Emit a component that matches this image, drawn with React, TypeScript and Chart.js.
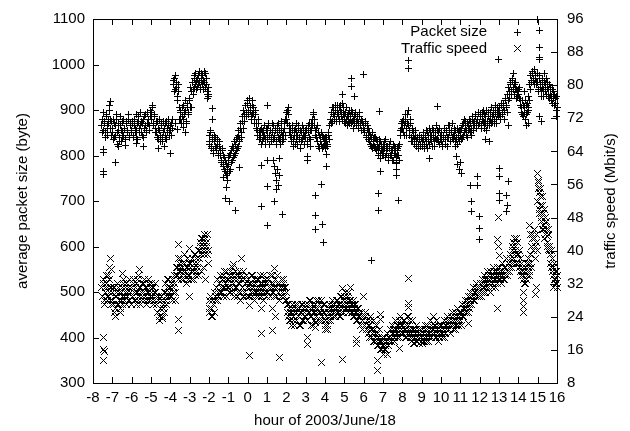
import React, { useEffect, useRef } from "react";
import { Chart, registerables } from "chart.js";

Chart.register(...registerables);

const FONT = "'Liberation Sans', Arial, Helvetica, sans-serif";

// time grid of the sampled series (hours), one row = one hour
const START_HOUR = -8;
const STEP_HOUR = 0.05;
const HALF_STEP = 0.025;

const HOUR_MIN = -8;
const HOUR_MAX = 16;
const HOUR_STEP = 1;
const SIZE_MIN = 300;
const SIZE_MAX = 1100;
const SIZE_STEP = 100;
const SPEED_MIN = 8;
const SPEED_MAX = 96;
const SPEED_STEP = 8;

const seriesLabels = ["Packet size", "Traffic speed"];
const xTitle = "hour of 2003/June/18";
const yTitle = "average packet size (byte)";
const y2Title = "traffic speed (Mbit/s)";

const N = null;

// average packet size (byte), samples on the hour grid
const packetSizeRows: (number | null)[][] = [
  [N, N, N, N, N, N, N, N, N, 865, 880, 855, 875, 850, 885, 860, 870, 910, 880, 845],
  [860, 835, 870, 845, 880, 825, 855, 840, 865, 830, 850, 875, 845, 860, 835, 870, 850, 880, 845, 865],
  [855, 875, 845, 880, 860, 840, 870, 885, 850, 865, 875, 845, 880, 860, 890, 855, 870, 880, 865, 885],
  [895, 880, 905, 870, 885, 860, 850, 875, 835, 855, 845, 870, 830, 850, 860, 840, 875, 850, 865, 855],
  [855, 870, 860, 955, 970, 945, 960, 930, 940, 905, 880, 895, 870, 885, 910, 890, 900, 875, 915, 895],
  [920, 950, 940, 960, 945, 970, 955, 965, 950, 975, 960, 945, 980, 955, 965, 985, 950, 970, 940, 930],
  [845, 825, 850, 815, 835, 810, 830, 840, 815, 825, 805, 820, 800, 785, 810, 775, 795, 765, 780, 760],
  [780, 800, 770, 810, 790, 815, 800, 825, 810, 840, 820, 855, 835, 870, 850, 885, 900, 875, 910, 895],
  [915, 890, 920, 900, 880, 910, 895, 870, 900, 860, 845, 870, 835, 855, 825, 850, 840, 865, 835, 855],
  [860, 835, 870, 845, 855, 830, 850, 865, 840, 855, 830, 850, 870, 835, 840, 860, 830, 850, 870, 845],
  [880, 900, 890, 865, 845, 830, 855, 820, 845, 860, 835, 850, 825, 865, 840, 815, 850, 835, 860, 845],
  [840, 860, 825, 850, 870, 835, 855, 880, 890, 865, 845, 860, 830, 850, 815, 840, 825, 845, 820, 835],
  [830, 815, 840, 825, 850, 865, 880, 895, 875, 905, 885, 900, 880, 910, 890, 875, 900, 885, 915, 890],
  [875, 895, 880, 865, 890, 870, 885, 900, 875, 860, 885, 870, 890, 865, 880, 860, 885, 870, 855, 875],
  [865, 850, 870, 845, 860, 835, 850, 825, 840, 815, 835, 820, 840, 810, 830, 815, 835, 805, 825, 810],
  [825, 800, 815, 835, 805, 820, 795, 815, 830, 800, 810, 790, 820, 805, 795, 815, 800, 825, 845, 860],
  [875, 850, 865, 890, 845, 870, 900, 855, 880, 840, 860, 830, 850, 825, 845, 820, 840, 815, 835, 825],
  [840, 820, 835, 815, 845, 825, 850, 830, 860, 835, 845, 820, 855, 830, 840, 865, 835, 850, 825, 845],
  [830, 850, 825, 845, 860, 835, 855, 820, 840, 865, 830, 850, 870, 835, 845, 820, 840, 825, 850, 830],
  [845, 860, 840, 870, 850, 875, 855, 840, 865, 880, 850, 870, 860, 885, 855, 875, 890, 860, 880, 865],
  [870, 890, 860, 880, 900, 870, 885, 855, 875, 895, 865, 880, 905, 875, 890, 870, 895, 880, 905, 885],
  [890, 905, 880, 910, 895, 915, 900, 925, 905, 935, 950, 925, 960, 940, 970, 950, 935, 960, 945, 930],
  [945, 925, 910, 895, 920, 885, 905, 880, 910, 895, 930, 905, 955, 975, 960, 985, 965, 990, 970, 955],
  [960, 940, 975, 950, 930, 965, 945, 980, 955, 935, 960, 945, 925, 950, 930, 915, 940, 910, 925, 900],
];

// average packet size (byte), samples half a step later
const packetSizeRowsB: (number | null)[][] = [
  [N, N, N, N, N, N, N, N, N, 850, 895, 870, 840, 890, 865, 845, 880, 900, 860, 875],
  [850, 880, 840, 865, 890, 850, 870, 830, 885, 855, 840, 880, 860, 835, 875, 855, 890, 840, 870, 850],
  [870, 840, 865, 850, 890, 855, 835, 875, 860, 895, 850, 870, 840, 885, 865, 850, 895, 870, 855, 900],
  [880, 910, 865, 890, 850, 875, 840, 860, 880, 830, 865, 840, 875, 820, 845, 870, 835, 860, 880, 845],
  [865, 845, 880, 965, 940, 975, 950, 920, 955, 880, 900, 870, 905, 880, 895, 920, 870, 905, 890, 925],
  [905, 940, 960, 935, 975, 950, 980, 945, 970, 955, 985, 950, 965, 975, 945, 960, 980, 955, 935, 950],
  [830, 855, 820, 840, 805, 845, 820, 810, 835, 800, 830, 810, 790, 815, 780, 800, 770, 790, 755, 775],
  [795, 765, 805, 785, 820, 795, 830, 805, 835, 815, 845, 830, 860, 840, 875, 860, 890, 910, 885, 920],
  [900, 925, 905, 885, 920, 890, 905, 880, 890, 870, 855, 880, 850, 840, 860, 830, 855, 845, 825, 860],
  [845, 865, 825, 855, 840, 870, 835, 845, 860, 825, 865, 840, 855, 825, 850, 875, 845, 835, 860, 880],
  [895, 870, 905, 850, 860, 840, 865, 835, 855, 825, 870, 845, 860, 835, 855, 830, 865, 845, 825, 855],
  [855, 830, 865, 840, 855, 820, 870, 865, 895, 880, 855, 840, 865, 820, 845, 830, 850, 815, 840, 825],
  [840, 825, 820, 845, 835, 880, 870, 905, 890, 880, 910, 875, 895, 885, 905, 880, 910, 895, 880, 905],
  [890, 870, 905, 885, 875, 900, 880, 870, 895, 880, 870, 895, 875, 885, 870, 895, 865, 880, 875, 860],
  [855, 875, 840, 865, 845, 860, 830, 845, 820, 850, 825, 840, 815, 835, 820, 800, 820, 830, 810, 800],
  [810, 830, 795, 820, 815, 790, 825, 800, 810, 790, 825, 805, 815, 785, 810, 800, 820, 790, 855, 870],
  [860, 880, 845, 875, 860, 890, 865, 845, 870, 830, 855, 845, 835, 855, 830, 840, 825, 845, 820, 840],
  [830, 850, 825, 840, 830, 855, 815, 845, 825, 850, 830, 860, 840, 820, 850, 835, 855, 830, 860, 835],
  [845, 820, 840, 860, 825, 850, 840, 865, 850, 830, 855, 840, 845, 860, 830, 855, 835, 860, 840, 855],
  [855, 835, 865, 845, 880, 860, 845, 870, 855, 860, 875, 845, 880, 870, 865, 885, 870, 880, 895, 870],
  [885, 865, 895, 875, 860, 890, 870, 900, 865, 885, 875, 895, 870, 885, 900, 880, 910, 870, 890, 900],
  [900, 885, 915, 890, 905, 880, 920, 910, 895, 920, 940, 955, 935, 965, 945, 980, 955, 945, 925, 940],
  [935, 950, 920, 905, 890, 910, 895, 920, 890, 915, 900, 920, 945, 965, 980, 970, 955, 975, 960, 980],
  [945, 970, 955, 940, 970, 950, 930, 960, 940, 970, 950, 930, 955, 935, 920, 945, 925, 935, 915, 930],
];

// scattered packet-size samples away from the main band [hour, byte]
const packetSizeExtra: [number, number][] = [
  [-7.45, 813], [-7.45, 806], [-7.47, 765], [-7.45, 758], [-6.85, 784], [-7.12, 918], [-6.7, 820], [-6.3, 822],
  [-5.73, 827], [-5.4, 820], [-4.6, 815], [-4.0, 805], [-3.75, 870], [-3.65, 858], [-3.3, 862], [-3.2, 850],
  [-2.9, 905], [-2.1, 925], [-2.05, 935], [-1.8, 903], [-1.8, 880], [-1.15, 706], [-1.1, 730], [-1.05, 745],
  [-1.25, 752], [-0.95, 700], [-0.65, 680], [-0.4, 773], [0.74, 778], [0.74, 689], [1.0, 910], [1.05, 789],
  [1.05, 732], [1.05, 646], [1.35, 790], [1.4, 775], [1.45, 760], [1.5, 745], [1.55, 770], [1.6, 735],
  [1.65, 755], [1.5, 725], [1.4, 700], [1.67, 793], [1.78, 670], [3.07, 797], [3.07, 790], [3.5, 713],
  [3.5, 668], [3.5, 637], [3.8, 737], [3.85, 648], [3.9, 609], [4.1, 803], [4.1, 776], [4.9, 933],
  [5.35, 970], [5.35, 951], [5.55, 929], [6.0, 977], [6.43, 570], [6.75, 717], [6.75, 680], [6.85, 793],
  [6.85, 765], [6.8, 897], [7.7, 782], [7.7, 770], [7.7, 756], [7.8, 702], [8.3, 1009], [8.3, 992],
  [9.43, 793], [9.8, 908], [10.8, 797], [10.85, 780], [10.95, 770], [11.05, 760], [11.0, 785], [11.55, 735],
  [11.6, 700], [11.6, 676], [11.9, 754], [11.9, 735], [11.97, 667], [11.97, 640], [11.97, 616], [12.3, 835],
  [12.5, 830], [12.95, 1011], [13.0, 771], [13.0, 754], [13.05, 717], [13.05, 702], [13.5, 743], [13.4, 713],
  [13.45, 690], [13.4, 678], [13.5, 865], [14.4, 865], [14.55, 870], [14.3, 940], [15.0, 1098], [15.07, 1074],
  [15.07, 1037], [15.07, 1016], [15.07, 1010], [15.2, 875], [15.1, 886], [16.0, 905], [15.98, 885],
];

// traffic speed (Mbit/s), samples on the hour grid
const trafficSpeedRows: (number | null)[][] = [
  [N, N, N, N, N, N, N, N, N, 31, 29, 33, 28, 30, 32, 29, 34, 30, 28, 31],
  [30, 27, 31, 26, 29, 32, 27, 30, 26, 28, 31, 29, 33, 28, 30, 32, 29, 31, 28, 30],
  [31, 29, 33, 30, 28, 32, 30, 34, 29, 31, 28, 32, 30, 33, 29, 31, 28, 30, 32, 29],
  [30, 32, 29, 31, 28, 30, 27, 25, 29, 24, 26, 28, 23.5, 27, 30, 32, 29, 31, 33, 30],
  [31, 29, 33, 30, 32, 28, 34, 36, 33, 37, 35, 38, 34, 36, 33, 37, 35, 32, 36, 34],
  [34, 37, 35, 38, 33, 36, 39, 35, 37, 34, 40, 42, 39, 43, 41, 44, 40, 42, 39, 37],
  [28, 25, 29, 26, 24, 27, 30, 28, 31, 33, 29, 32, 34, 30, 33, 31, 35, 32, 29, 33],
  [31, 34, 30, 33, 36, 32, 29, 35, 31, 33, 30, 34, 32, 28, 33, 31, 35, 30, 32, 29],
  [31, 33, 29, 32, 30, 34, 31, 28, 32, 30, 33, 29, 31, 34, 30, 32, 28, 31, 33, 30],
  [32, 30, 33, 31, 29, 32, 34, 30, 31, 33, 29, 32, 30, 28, 31, 33, 30, 32, 29, 31],
  [30, 27, 24, 26, 23, 25, 27, 24, 22, 26, 25, 23, 27, 24, 26, 22, 25, 27, 23, 25],
  [24, 26, 23, 27, 25, 28, 24, 26, 22, 25, 27, 24, 26, 28, 25, 23, 26, 24, 27, 25],
  [23, 21, 24, 22, 25, 27, 24, 26, 28, 25, 27, 24, 26, 28, 25, 27, 24, 29, 26, 28],
  [27, 30, 26, 29, 25, 28, 31, 27, 25, 28, 26, 24, 27, 25, 23, 26, 24, 22, 25, 23],
  [24, 22, 25, 21, 23, 20, 22, 24, 19, 21, 23, 18, 20, 22, 17, 19, 21, 18, 16, 19],
  [17, 15, 19, 16, 18, 20, 17, 19, 21, 18, 22, 20, 19, 23, 21, 20, 22, 19, 24, 21],
  [22, 20, 23, 21, 19, 24, 22, 20, 21, 18, 23, 19, 21, 17.5, 20, 22, 18, 20, 19, 21],
  [19, 17.5, 20, 18, 22, 19, 21, 18, 20, 23, 19, 21, 24, 20, 22, 19, 21, 18, 20, 22],
  [20, 22, 19, 21, 23, 20, 22, 24, 21, 23, 20, 22, 25, 22, 24, 21, 23, 26, 22, 24],
  [23, 25, 27, 24, 26, 28, 25, 27, 29, 26, 28, 30, 27, 29, 31, 28, 30, 32, 29, 31],
  [30, 32, 29, 33, 31, 34, 30, 32, 35, 31, 33, 30, 34, 32, 36, 33, 31, 35, 32, 34],
  [33, 36, 34, 32, 37, 35, 33, 36, 38, 34, 37, 35, 39, 36, 41, 38, 43, 40, 37, 42],
  [39, 36, 38, 34, 36, 33, 35, 32, 37, 34, 36, 38, 35, 39, 41, 44, 40, 43, 38, 42],
  [52, 57, 50, 55, 48, 53, 46, 50, 44, 47, 42, 45, 41, 39, 36, 38, 34, 37, 33, 35],
];

// traffic speed (Mbit/s), samples half a step later
const trafficSpeedRowsB: (number | null)[][] = [
  [N, N, N, N, N, N, N, N, N, 29, 32, 27, 31, 34, 28, 31, 29, 33, 31, 27],
  [28, 31, 25, 29, 30, 27, 31, 28, 25, 30, 27, 32, 29, 31, 27, 30, 28, 33, 30, 27],
  [29, 32, 28, 31, 27, 30, 33, 28, 31, 27, 30, 29, 32, 28, 31, 27, 30, 33, 28, 31],
  [28, 31, 27, 30, 32, 29, 25, 28, 23, 26, 29, 24, 26, 25, 28, 30, 27, 33, 29, 31],
  [29, 32, 28, 31, 34, 30, 36, 34, 38, 35, 36, 33, 37, 35, 39, 34, 36, 38, 33, 37],
  [36, 33, 38, 35, 37, 39, 34, 38, 36, 40, 38, 41, 43, 40, 42, 39, 43, 41, 44, 40],
  [26, 29, 24, 28, 27, 25, 29, 31, 28, 30, 32, 30, 31, 33, 29, 34, 31, 33, 35, 31],
  [33, 30, 35, 31, 34, 30, 33, 31, 34, 29, 32, 35, 30, 34, 31, 29, 33, 32, 34, 31],
  [29, 32, 31, 34, 29, 32, 30, 33, 30, 29, 31, 33, 30, 32, 29, 31, 34, 30, 32, 29],
  [30, 33, 31, 34, 31, 30, 32, 29, 33, 31, 34, 30, 32, 31, 33, 29, 31, 33, 31, 28],
  [28, 25, 27, 23, 25, 22, 26, 23, 25, 27, 23, 26, 24, 22, 25, 27, 23, 26, 24, 27],
  [26, 23, 25, 28, 24, 26, 22, 27, 25, 23, 26, 28, 25, 23, 27, 25, 28, 23, 25, 27],
  [22, 24, 21, 23, 26, 23, 25, 27, 24, 26, 25, 28, 25, 27, 24, 26, 29, 25, 27, 25],
  [29, 26, 28, 27, 30, 26, 28, 25, 27, 24, 27, 25, 23, 26, 24, 25, 22, 24, 21, 24],
  [22, 24, 21, 23, 22, 21, 19, 23, 21, 20, 18, 21, 19, 18, 20, 17, 18, 16, 18, 17],
  [18, 16, 17, 18, 15, 19, 18, 21, 19, 20, 21, 18, 21, 20, 22, 19, 21, 23, 20, 22],
  [20, 23, 21, 19, 22, 20, 21, 23, 19, 20, 21, 17.5, 19, 21, 18, 19, 21, 17.5, 20, 18],
  [21, 18, 19, 21, 20, 18, 22, 20, 19, 21, 22, 20, 21, 22, 19, 23, 20, 22, 19, 21],
  [22, 20, 21, 19, 22, 21, 23, 21, 22, 20, 24, 23, 21, 23, 22, 25, 22, 24, 23, 25],
  [25, 22, 24, 26, 25, 27, 26, 28, 25, 27, 29, 27, 29, 28, 30, 29, 31, 30, 31, 29],
  [31, 30, 32, 30, 32, 31, 33, 31, 33, 34, 32, 35, 33, 31, 34, 35, 33, 34, 36, 33],
  [35, 33, 35, 34, 33, 36, 34, 38, 35, 37, 36, 38, 37, 40, 37, 42, 39, 41, 43, 39],
  [37, 40, 35, 37, 35, 34, 32, 36, 33, 35, 37, 34, 37, 36, 43, 40, 45, 41, 44, 40],
  [55, 49, 53, 47, 51, 45, 49, 43, 48, 45, 41, 44, 40, 37, 40, 35, 36, 33, 35, 32],
];

// scattered traffic-speed samples away from the main band [hour, Mbit/s]
const trafficSpeedExtra: [number, number][] = [
  [-7.45, 19.0], [-7.45, 16.0], [-7.43, 15.5], [-7.45, 13.5], [-7.1, 38.0], [-7.15, 36.0], [-7.05, 35.4],
  [-6.86, 24.0], [-6.5, 34.4], [-5.6, 35.4], [-3.6, 23.4], [-3.6, 20.6], [-3.6, 41.6], [-3.0, 28.9],
  [-3.0, 40.5], [-2.4, 35], [-2.2, 33], [-2.3, 36], [-0.75, 36.6], [-0.3, 38], [0.1, 14.6], [0.1, 26.7],
  [0.7, 26.0], [0.74, 19.9], [1.3, 20.6], [1.67, 14.2], [1.3, 26], [1.45, 24], [1.4, 35.6], [3.07, 17.2],
  [3.07, 19], [3.5, 22.7], [3.5, 21.5], [3.8, 12.9], [4.9, 13.7], [4.9, 30.9], [5.65, 18.6], [5.65, 17.6],
  [6.0, 28.9], [6.7, 13.5], [6.7, 11], [6.85, 24.5], [6.85, 23.4], [7.85, 16.3], [8.3, 33.2], [8.3, 27.2],
  [8.3, 26.2], [8.3, 24.1], [11.4, 22.3], [12.9, 26.0], [12.95, 48], [12.9, 42.8], [12.95, 41], [13.0, 38.9],
  [14.25, 30], [14.25, 28], [14.25, 26.5], [14.25, 25], [14.6, 46], [14.65, 44], [14.95, 31], [14.9, 29.5],
  [15.0, 58.6], [15.05, 56.5], [15.1, 54], [15.2, 49], [15.15, 51], [15.3, 45], [15.4, 46.7], [15.5, 43.5],
  [15.55, 40.3], [15.7, 40], [15.8, 31], [15.9, 32], [16.0, 34], [16.0, 31],
];

function toPoints(rows: (number | null)[][], rowsB: (number | null)[][], extra: [number, number][]) {
  const pts: { x: number; y: number }[] = [];
  rows.flat().forEach((v, i) => {
    if (v !== null) pts.push({ x: START_HOUR + i * STEP_HOUR, y: v });
  });
  rowsB.flat().forEach((v, i) => {
    if (v !== null) pts.push({ x: START_HOUR + i * STEP_HOUR + HALF_STEP, y: v });
  });
  extra.forEach(([x, y]) => pts.push({ x, y }));
  return pts;
}

// crisp pixel sprites for the gnuplot-like point symbols
function makeSprite(kind: "plus" | "cross"): HTMLCanvasElement {
  const c = document.createElement("canvas");
  c.width = 7;
  c.height = 7;
  const g = c.getContext("2d")!;
  g.fillStyle = "#000";
  for (let i = 0; i < 7; i++) {
    if (kind === "plus") {
      g.fillRect(i, 3, 1, 1);
      g.fillRect(3, i, 1, 1);
    } else {
      g.fillRect(i, i, 1, 1);
      g.fillRect(6 - i, i, 1, 1);
    }
  }
  return c;
}

const makeFramePlugin = (sprites: HTMLCanvasElement[]) => ({
  id: "gnuplotFrame",
  beforeDatasetsDraw(chart: any) {
    chart.ctx.save();
    chart.ctx.imageSmoothingEnabled = false;
  },
  afterDatasetsDraw(chart: any) {
    chart.ctx.restore();
  },
  afterDraw(chart: any) {
    const { ctx, chartArea: a, scales } = chart;
    const T = 6;
    ctx.save();
    ctx.strokeStyle = "#000";
    ctx.lineWidth = 1;
    ctx.strokeRect(a.left + 0.5, a.top + 0.5, a.right - a.left, a.bottom - a.top);
    ctx.beginPath();
    scales.x.ticks.forEach((_: any, i: number) => {
      const px = Math.round(scales.x.getPixelForTick(i)) + 0.5;
      ctx.moveTo(px, a.bottom);
      ctx.lineTo(px, a.bottom - T);
      ctx.moveTo(px, a.top);
      ctx.lineTo(px, a.top + T);
    });
    scales.y.ticks.forEach((_: any, i: number) => {
      const py = Math.round(scales.y.getPixelForTick(i)) + 0.5;
      ctx.moveTo(a.left, py);
      ctx.lineTo(a.left + T, py);
    });
    scales.y2.ticks.forEach((_: any, i: number) => {
      const py = Math.round(scales.y2.getPixelForTick(i)) + 0.5;
      ctx.moveTo(a.right, py);
      ctx.lineTo(a.right - T, py);
    });
    ctx.stroke();

    ctx.fillStyle = "#000";
    ctx.font = `15px ${FONT}`;
    ctx.textBaseline = "middle";
    // legend (gnuplot style: text right-aligned, sample to the right)
    ctx.textAlign = "right";
    const lx = a.right - 70;
    const sx = a.right - 40;
    const ly = [a.top + 13, a.top + 29.5];
    seriesLabels.forEach((label, i) => {
      ctx.fillText(label, lx, ly[i]);
      ctx.drawImage(sprites[i], Math.round(sx - 3.5), Math.round(ly[i] - 3.5));
    });

    // axis titles
    ctx.textAlign = "center";
    const cy = (a.top + a.bottom) / 2;
    ctx.fillText(xTitle, (a.left + a.right) / 2, 421);
    ctx.save();
    ctx.translate(23, cy);
    ctx.rotate(-Math.PI / 2);
    ctx.fillText(yTitle, 0, 0);
    ctx.restore();
    ctx.save();
    ctx.translate(611, cy);
    ctx.rotate(-Math.PI / 2);
    ctx.fillText(y2Title, 0, 0);
    ctx.restore();
    ctx.restore();
  },
});

export default function App() {
  const ref = useRef<HTMLCanvasElement>(null);

  useEffect(() => {
    if (!ref.current) return;
    const plus = makeSprite("plus");
    const cross = makeSprite("cross");
    const tickFont = { family: FONT, size: 15 };
    const plain = (v: any) => String(v);
    const chart = new Chart(ref.current, {
      type: "scatter",
      data: {
        datasets: [
          {
            label: seriesLabels[0],
            data: toPoints(packetSizeRows, packetSizeRowsB, packetSizeExtra),
            yAxisID: "y",
            pointStyle: plus as any,
            pointRadius: 3.5,
            borderColor: "#000",
            backgroundColor: "#000",
            borderWidth: 0,
            clip: false,
          },
          {
            label: seriesLabels[1],
            data: toPoints(trafficSpeedRows, trafficSpeedRowsB, trafficSpeedExtra),
            yAxisID: "y2",
            pointStyle: cross as any,
            pointRadius: 3.5,
            borderColor: "#000",
            backgroundColor: "#000",
            borderWidth: 0,
            clip: false,
          },
        ],
      },
      options: {
        animation: false,
        responsive: false,
        events: [],
        layout: { padding: { top: 13, left: 0, right: 0, bottom: 0 } },
        plugins: { legend: { display: false }, tooltip: { enabled: false } },
        scales: {
          x: {
            type: "linear",
            position: "bottom",
            min: HOUR_MIN,
            max: HOUR_MAX,
            ticks: { stepSize: HOUR_STEP, autoSkip: false, maxRotation: 0, padding: 6, color: "#000", font: tickFont, callback: plain },
            grid: { display: false, drawTicks: false },
            border: { display: false },
            afterFit: (s: any) => {
              s.height = 48;
            },
          },
          y: {
            type: "linear",
            position: "left",
            min: SIZE_MIN,
            max: SIZE_MAX,
            ticks: { stepSize: SIZE_STEP, padding: 8, color: "#000", font: tickFont, callback: plain },
            grid: { display: false, drawTicks: false },
            border: { display: false },
            afterFit: (s: any) => {
              s.width = 93;
            },
          },
          y2: {
            type: "linear",
            position: "right",
            min: SPEED_MIN,
            max: SPEED_MAX,
            ticks: { stepSize: SPEED_STEP, padding: 10, color: "#000", font: tickFont, callback: plain },
            grid: { display: false, drawTicks: false },
            border: { display: false },
            afterFit: (s: any) => {
              s.width = 73;
            },
          },
        },
      },
      plugins: [makeFramePlugin([plus, cross])],
    });
    return () => chart.destroy();
  }, []);

  return (
    <canvas
      ref={ref}
      width={630}
      height={431}
      style={{ position: "absolute", left: 0, top: 0, display: "block", background: "#fff" }}
    />
  );
}
